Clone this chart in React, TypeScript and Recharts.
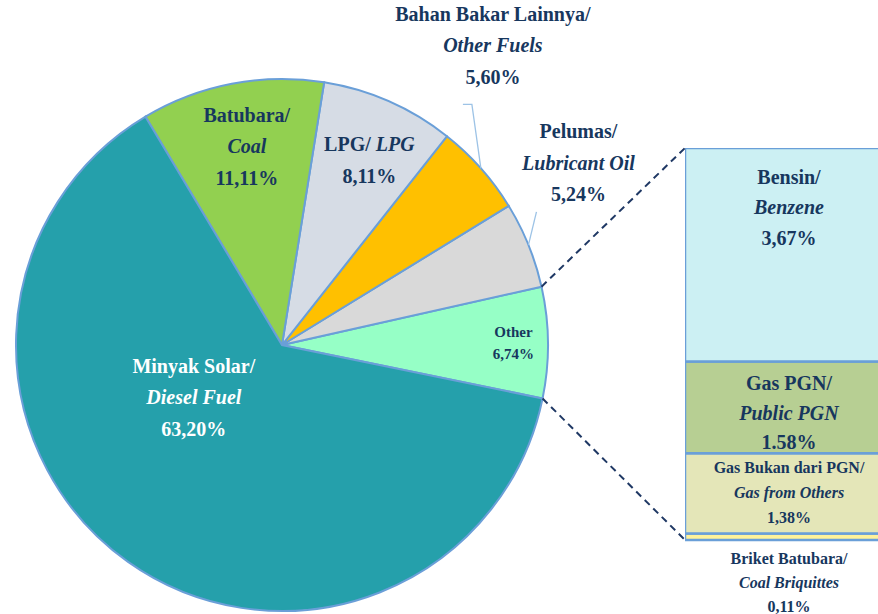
import React from 'react';
import { PieChart, Pie, Cell, BarChart, Bar, XAxis, YAxis, LabelList } from 'recharts';

// ---------- DATA ----------
const sliceKeys = ['Other', 'Pelumas', 'BahanBakarLainnya', 'LPG', 'Batubara', 'MinyakSolar'];
const sliceValues = [6.74, 5.24, 5.6, 8.11, 11.11, 63.2];
const sliceTitles = ['Other', 'Pelumas/', 'Bahan Bakar Lainnya/', 'LPG/ ', 'Batubara/', 'Minyak Solar/'];
const sliceSubtitles = ['', 'Lubricant Oil', 'Other Fuels', 'LPG', 'Coal', 'Diesel Fuel'];
const slicePctLabels = ['6,74%', '5,24%', '5,60%', '8,11%', '11,11%', '63,20%'];
const sliceColors = ['#96FFC6', '#D9D9D9', '#FFC000', '#D6DCE5', '#92D050', '#25A0AB'];

const barKeys = ['Briket', 'GasLain', 'GasPGN', 'Bensin'];
const barValues = [0.11, 1.38, 1.58, 3.67];
const barTitles = ['Briket Batubara/', 'Gas Bukan dari PGN/', 'Gas PGN/', 'Bensin/'];
const barSubtitles = ['Coal Briquittes', 'Gas from Others', 'Public PGN', 'Benzene'];
const barPctLabels = ['0,11%', '1,38%', '1.58%', '3,67%'];
const barColors = ['#FFF29A', '#E4E6B8', '#B7CF93', '#CCF0F3'];

// ---------- LAYOUT ----------
const W = 878;
const H = 614;
const CX = 282;
const CY = 345;
const R = 266;
const START = -11.6;
const TOTAL = sliceValues.reduce((a, b) => a + b, 0);
const END = START + 360;

const BAR_LEFT = 685;
const BAR_TOP = 148;
const BAR_H = 392;
const BAR_W = 208;
const BAR_BOTTOM_MARGIN = H - BAR_TOP - BAR_H;

const TEXT = '#17375E';
const FONT = "'Liberation Serif', 'DejaVu Serif', serif";
const EDGE = '#6A9FD8';
const LEADER = '#9DC3E6';

const pieData = sliceKeys.map((k, i) => ({ name: k, value: sliceValues[i] }));
const barRow: Record<string, number | string> = { name: 'Other' };
barKeys.forEach((k, i) => (barRow[k] = barValues[i]));
const barData = [barRow];

const RAD = Math.PI / 180;
const polar = (r: number, a: number) => ({ x: CX + r * Math.cos(a * RAD), y: CY - r * Math.sin(a * RAD) });

type LabelLayout =
  | { mode: 'in'; rf: number; dx: number; dy: number; size: number; lh: number; color?: string; angle?: number }
  | { mode: 'out'; dx: number; dy: number; size: number; lh: number; leader: number[][] };

const labelLayout: LabelLayout[] = [
  { mode: 'in', rf: 0.87, dx: 0, dy: 0, size: 15, lh: 22 },
  { mode: 'out', dx: 50, dy: -82, size: 20, lh: 31.5, leader: [[0, 0], [8, -33]] },
  { mode: 'out', dx: 12, dy: -123, size: 20, lh: 31.5, leader: [[0, 0], [-9, -64], [-18, -64]] },
  { mode: 'in', rf: 0.77, dx: 5, dy: 3, size: 20, lh: 32 },
  { mode: 'in', rf: 0.76, dx: 3, dy: 0, size: 20, lh: 31.5 },
  { mode: 'in', rf: 0.385, dx: 0, dy: 0, size: 20, lh: 31.5, color: '#FFFFFF', angle: 210.6 },
];

const textStyle = (size: number, italic: boolean): React.CSSProperties => ({
  fontFamily: FONT,
  fontWeight: 'bold',
  fontStyle: italic ? 'italic' : 'normal',
  fontSize: size,
});

const renderPieLabel = (props: any) => {
  const { midAngle, index } = props;
  const lay = labelLayout[index];
  let x = 0;
  let y = 0;
  let leader: React.ReactNode = null;
  if (lay.mode === 'in') {
    const p = polar(R * lay.rf, lay.angle ?? midAngle);
    x = p.x + lay.dx;
    y = p.y + lay.dy;
  } else {
    const arc = polar(R, midAngle);
    x = arc.x + lay.dx;
    y = arc.y + lay.dy;
    const pts = lay.leader.map(([a, b]) => `${arc.x + a},${arc.y + b}`).join(' ');
    leader = <polyline points={pts} fill="none" stroke={LEADER} strokeWidth={1.3} />;
  }
  const color = (lay as any).color ?? TEXT;
  const sub = sliceSubtitles[index];
  const isInline = sliceKeys[index] === 'LPG';
  const lines: { node: React.ReactNode; italic: boolean }[] = [];
  if (isInline) {
    lines.push({
      node: (
        <>
          {sliceTitles[index]}
          <tspan style={{ fontStyle: 'italic' }}>{sub}</tspan>
        </>
      ),
      italic: false,
    });
  } else {
    lines.push({ node: sliceTitles[index], italic: false });
    if (sub) lines.push({ node: sub, italic: true });
  }
  lines.push({ node: slicePctLabels[index], italic: false });
  const n = lines.length;
  return (
    <g key={`lbl-${index}`}>
      {leader}
      {lines.map((ln, i) => (
        <text
          key={i}
          x={x}
          y={y + (i - (n - 1) / 2) * lay.lh}
          textAnchor="middle"
          dominantBaseline="central"
          style={textStyle(lay.size, ln.italic)}
          fill={color}
        >
          {ln.node}
        </text>
      ))}
    </g>
  );
};

type BarLabelLayout = { anchor: 'top' | 'below'; offsets: number[]; size: number };
const barLabelLayout: BarLabelLayout[] = [
  { anchor: 'below', offsets: [18, 42, 66], size: 16 },
  { anchor: 'top', offsets: [14, 39, 64], size: 16 },
  { anchor: 'top', offsets: [22, 52, 81], size: 20 },
  { anchor: 'top', offsets: [29, 59, 90], size: 20 },
];

const makeBarLabel = (idx: number) => (props: any) => {
  const { x, y, width, height } = props;
  const lay = barLabelLayout[idx];
  const base = lay.anchor === 'top' ? Number(y) : Number(y) + Number(height);
  const cx = Number(x) + Number(width) / 2;
  const texts = [barTitles[idx], barSubtitles[idx], barPctLabels[idx]];
  return (
    <g>
      {texts.map((t, i) => (
        <text
          key={i}
          x={cx}
          y={base + lay.offsets[i]}
          textAnchor="middle"
          dominantBaseline="central"
          style={textStyle(lay.size, i === 1)}
          fill={TEXT}
        >
          {t}
        </text>
      ))}
    </g>
  );
};

export default function App() {
  const otherEnd = START + (sliceValues[0] / TOTAL) * 360;
  const pTop = polar(R, otherEnd);
  const pBot = polar(R, START);
  return (
    <div
      style={{
        position: 'absolute',
        left: 0,
        top: 0,
        width: W,
        height: H,
        overflow: 'hidden',
        background: '#FFFFFF',
      }}
    >
      <div style={{ position: 'absolute', left: 0, top: 0 }}>
        <PieChart width={W} height={H} margin={{ top: 0, right: 0, bottom: 0, left: 0 }}>
          <Pie
            data={pieData}
            dataKey="value"
            nameKey="name"
            cx={CX}
            cy={CY}
            outerRadius={R}
            startAngle={START}
            endAngle={END}
            stroke={EDGE}
            strokeWidth={2}
            label={renderPieLabel}
            labelLine={false}
            isAnimationActive={false}
          >
            {pieData.map((d, i) => (
              <Cell key={d.name} fill={sliceColors[i]} />
            ))}
          </Pie>
        </PieChart>
      </div>
      <div style={{ position: 'absolute', left: BAR_LEFT, top: BAR_TOP }}>
        <BarChart
          width={BAR_W}
          height={H - BAR_TOP}
          data={barData}
          margin={{ top: 0, right: 0, bottom: BAR_BOTTOM_MARGIN, left: 0 }}
          barCategoryGap={0}
          style={{ overflow: 'visible' }}
        >
          <XAxis dataKey="name" hide />
          <YAxis hide domain={[0, barValues.reduce((a, b) => a + b, 0)]} />
          {barKeys.map((k, i) => (
            <Bar
              key={k}
              dataKey={k}
              stackId="s"
              fill={barColors[i]}
              stroke={EDGE}
              strokeWidth={2.5}
              isAnimationActive={false}
            >
              <LabelList dataKey={k} content={makeBarLabel(i)} />
            </Bar>
          ))}
        </BarChart>
      </div>
      <svg
        width={W}
        height={H}
        style={{ position: 'absolute', left: 0, top: 0, pointerEvents: 'none' }}
      >
        <line x1={pTop.x} y1={pTop.y} x2={BAR_LEFT} y2={BAR_TOP} stroke="#1F3864" strokeWidth={2} strokeDasharray="7 5" />
        <line x1={pBot.x} y1={pBot.y} x2={BAR_LEFT} y2={BAR_TOP + BAR_H} stroke="#1F3864" strokeWidth={2} strokeDasharray="7 5" />
      </svg>
    </div>
  );
}
